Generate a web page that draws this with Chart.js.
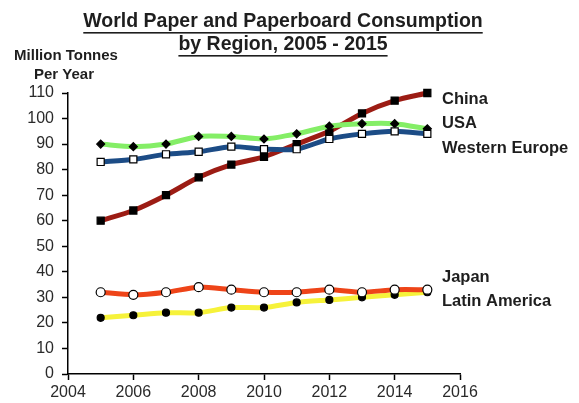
<!DOCTYPE html>
<html>
<head>
<meta charset="utf-8">
<script src="https://cdn.jsdelivr.net/npm/chart.js@4"></script>
<style>
  html, body { margin: 0; padding: 0; background: #fff; }
  #wrap { width: 579px; height: 403px; }
</style>
</head>
<body>
<div id="wrap"><canvas id="chartPaper" width="579" height="403"></canvas></div>
<script>
const years = [2005, 2006, 2007, 2008, 2009, 2010, 2011, 2012, 2013, 2014, 2015];
const china = [60, 64, 70, 77, 82, 85, 90, 95, 102, 107, 110];
const usa = [90, 89, 90, 93, 93, 92, 94, 97, 98, 98, 96];
const westernEurope = [83, 84, 86, 87, 89, 88, 88, 92, 94, 95, 94];
const japan = [32, 31, 32, 34, 33, 32, 32, 33, 32, 33, 33];
const latinAmerica = [22, 23, 24, 24, 26, 26, 28, 29, 30, 31, 32];
const regionNames = ["China", "USA", "Western Europe", "Japan", "Latin America"];
const titleLines = ["World Paper and Paperboard Consumption", "by Region, 2005 - 2015"];
const yTitle = ["Million Tonnes", "Per Year"];

function pts(vals) {
    return vals.map((v, i) => ({ x: years[i], y: v }));
}

// where the region names sit, in axis units
const labelAt = [107.3, 97.9, 88.1, 37.8, 28.3];

const textPlugin = {
    id: "textPlugin",
    afterDraw(chart) {
        const ctx = chart.ctx;
        const ys = chart.scales.y;
        ctx.save();
        ctx.fillStyle = "#1e1e1e";
        ctx.textBaseline = "middle";

        // title, underlined
        ctx.font = "bold 19.5px 'Liberation Sans', Arial, sans-serif";
        ctx.textAlign = "center";
        titleLines.forEach((t, i) => {
            const y = 22 + i * 23;
            ctx.fillText(t, 283, y);
            const w = ctx.measureText(t).width;
            ctx.fillRect(283 - w / 2, y + 10, w, 1.6);
        });

        // y axis title
        ctx.font = "bold 15px 'Liberation Sans', Arial, sans-serif";
        ctx.fillText(yTitle[0], 66, 56);
        ctx.fillText(yTitle[1], 64, 75);

        // region labels
        ctx.font = "bold 16.5px 'Liberation Sans', Arial, sans-serif";
        ctx.textAlign = "left";
        regionNames.forEach((n, i) => {
            ctx.fillText(n, 442, ys.getPixelForValue(labelAt[i]));
        });
        ctx.restore();
    }
};

function makeSet(label, vals, color, style, radius, bg, order) {
    return {
        label: label,
        data: pts(vals),
        borderColor: color,
        borderWidth: 5,
        tension: 0.25,
        clip: false,
        pointStyle: style,
        pointRadius: radius,
        pointBackgroundColor: bg,
        pointBorderColor: "#000",
        pointBorderWidth: 1.2,
        order: order
    };
}

new Chart(document.getElementById("chartPaper"), {
    type: "line",
    data: {
        datasets: [
            makeSet("China", china, "#9c1c14", "rect", 5, "#000", 3),
            makeSet("USA", usa, "#84ee66", "rectRot", 4, "#000", 2),
            makeSet("Western Europe", westernEurope, "#1c4c86", "rect", 5, "#fff", 1),
            makeSet("Japan", japan, "#ee4418", "circle", 4.5, "#fff", 4),
            makeSet("Latin America", latinAmerica, "#f6f23a", "circle", 3.5, "#000", 5)
        ]
    },
    options: {
        responsive: false,
        animation: false,
        layout: { padding: { left: 0, top: 93, right: 119, bottom: 0 } },
        plugins: {
            legend: { display: false },
            tooltip: { enabled: false }
        },
        scales: {
            x: {
                type: "linear",
                min: 2004,
                max: 2016,
                ticks: {
                    stepSize: 2,
                    color: "#2a2a2a",
                    font: { family: "'Liberation Sans', Arial, sans-serif", size: 16 },
                    padding: 3,
                    callback: v => String(v)
                },
                grid: { display: true, drawOnChartArea: false, tickLength: 6, color: "#000", tickWidth: 1.5 },
                border: { color: "#000", width: 1.5 },
                afterFit(s) { s.height = 29; }
            },
            y: {
                min: 0,
                max: 110,
                ticks: {
                    stepSize: 10,
                    color: "#2a2a2a",
                    font: { family: "'Liberation Sans', Arial, sans-serif", size: 16 },
                    padding: 8
                },
                grid: { display: true, drawOnChartArea: false, tickLength: 6, color: "#000", tickWidth: 1.5 },
                border: { color: "#000", width: 1.5 },
                afterFit(s) { s.width = 68; }
            }
        }
    },
    plugins: [textPlugin]
});
</script>
</body>
</html>
